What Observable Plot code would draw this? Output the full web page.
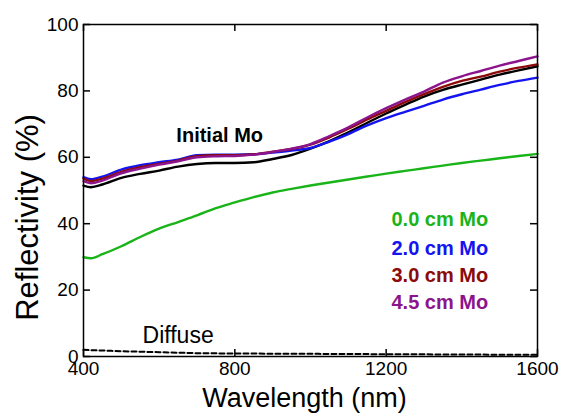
<!DOCTYPE html>
<html>
<head>
<meta charset="utf-8">
<script src="https://cdn.jsdelivr.net/npm/d3@7"></script>
<script src="https://cdn.jsdelivr.net/npm/@observablehq/plot@0.6"></script>
<style>
  body { margin: 0; background: #fff; }
  #chart svg { display: block; }
</style>
</head>
<body>
<div id="chart"></div>
<script>
// ---- Data ----
const wavelengths = [400,420,450,500,550,600,650,700,750,800,850,900,950,1000,1050,1100,1150,1200,1250,1300,1350,1400,1450,1500,1550,1600];
const initialMo = [51.5,51.0,51.8,53.8,55.0,56.0,57.2,58.0,58.3,58.3,58.5,59.5,60.7,62.6,64.9,67.5,70.4,73.2,75.8,78.3,80.3,81.9,83.4,84.9,86.2,87.4];
const mo00 = [29.9,29.6,30.8,33.2,36.0,38.5,40.5,42.5,44.7,46.4,48.0,49.4,50.5,51.5,52.4,53.3,54.2,55.1,55.9,56.7,57.5,58.3,59.0,59.7,60.4,61.0];
const mo20 = [54.0,53.4,54.2,56.3,57.6,58.5,59.3,60.6,60.8,60.8,60.9,61.4,62.0,62.8,64.7,67.0,69.6,71.8,73.7,75.5,77.4,79.0,80.4,81.8,83.0,84.0];
const mo30 = [53.6,52.8,53.6,55.6,57.0,58.0,59.0,60.3,60.6,60.6,60.9,61.7,62.5,63.8,66.0,68.6,71.4,74.0,76.6,79.0,81.2,83.0,84.3,85.8,87.0,88.0];
const mo45 = [52.8,52.2,53.0,55.2,56.6,57.8,58.8,60.0,60.3,60.4,60.8,61.6,62.6,64.0,66.4,69.0,72.0,74.8,77.4,79.8,82.5,84.4,86.0,87.6,89.0,90.4];
const diffuse = [2.0,1.9,1.8,1.6,1.45,1.3,1.15,1.0,0.95,0.9,0.88,0.85,0.82,0.8,0.78,0.75,0.72,0.7,0.68,0.65,0.62,0.6,0.57,0.55,0.52,0.5];

const seriesNames = ["0.0 cm Mo", "Initial Mo", "2.0 cm Mo", "3.0 cm Mo", "4.5 cm Mo"];
const seriesValues = [mo00, initialMo, mo20, mo30, mo45];
const seriesColors = ["#19b419", "#000000", "#1414f0", "#8c0a0a", "#8c148c"];

const legendNames = ["0.0 cm Mo", "2.0 cm Mo", "3.0 cm Mo", "4.5 cm Mo"];
const legendColors = ["#19b419", "#1414f0", "#8c0a0a", "#8c148c"];
const legendY = [41.1, 32.6, 24.3, 16.3];
const legendX = 1214;

const xTicks = [400, 800, 1200, 1600];
const yTicks = [0, 20, 40, 60, 80, 100];

const xLabel = "Wavelength (nm)";
const yLabel = "Reflectivity (%)";

// ---- Build tables ----
const rows = [];
seriesNames.forEach((name, i) => {
  wavelengths.forEach((w, j) => rows.push({series: name, wl: w, r: seriesValues[i][j]}));
});
const diffuseRows = wavelengths.map((w, j) => ({wl: w, r: diffuse[j]}));
const legendRows = legendNames.map((n, i) => ({name: n, color: legendColors[i], y: legendY[i]}));

const W = 561, H = 414;
const mL = 83, mR = 24, mT = 24, mB = 58;
const pw = W - mL - mR, ph = H - mT - mB;
const tickLen = 7;
const font = "'Liberation Sans', Arial, sans-serif";

const chart = Plot.plot({
  width: W,
  height: H,
  marginLeft: mL,
  marginRight: mR,
  marginTop: mT,
  marginBottom: mB,
  style: {fontFamily: font, background: "#fff", color: "#000"},
  x: {domain: [400, 1600]},
  y: {domain: [0, 100]},
  color: {domain: seriesNames, range: seriesColors},
  marks: [
    // data
    Plot.line(diffuseRows, {x: "wl", y: "r", stroke: "#000", strokeWidth: 2, strokeDasharray: "5,3", curve: "monotone-x"}),
    Plot.line(rows, {x: "wl", y: "r", z: "series", stroke: "series", strokeWidth: 2.4, curve: "monotone-x"}),
    // frame and inward ticks
    Plot.frame({stroke: "#000", strokeWidth: 1.5}),
    Plot.tickX(xTicks, {x: d => d, insetTop: ph - tickLen, stroke: "#000", strokeWidth: 1.5}),
    Plot.tickX(xTicks, {x: d => d, insetBottom: ph - tickLen, stroke: "#000", strokeWidth: 1.5}),
    Plot.tickY(yTicks, {y: d => d, insetRight: pw - tickLen, stroke: "#000", strokeWidth: 1.5}),
    Plot.tickY(yTicks, {y: d => d, insetLeft: pw - tickLen, stroke: "#000", strokeWidth: 1.5}),
    // axes
    Plot.axisX({ticks: xTicks, tickFormat: d => String(d), tickSize: 0, tickPadding: 5, fontSize: 19, label: null}),
    Plot.axisY({ticks: yTicks, tickFormat: d => String(d), tickSize: 0, tickPadding: 5, fontSize: 19, label: null}),
    Plot.text([xLabel], {text: d => d, frameAnchor: "bottom", textAnchor: "middle", lineAnchor: "middle", dx: -6, dy: 42, fontSize: 27, fill: "#000"}),
    Plot.text([yLabel], {text: d => d, frameAnchor: "left", textAnchor: "middle", lineAnchor: "middle", rotate: -90, dx: -55, dy: 27, fontSize: 31, fill: "#000"}),
    // annotations
    Plot.text(["Initial Mo"], {x: 760, y: 66.6, text: d => d, fontSize: 20, fontWeight: "bold", fill: "#000"}),
    Plot.text(["Diffuse"], {x: 556, y: 6.4, text: d => d, textAnchor: "start", fontSize: 23, fill: "#000"}),
    Plot.text(legendRows, {x: () => legendX, y: "y", text: "name", fill: "color", textAnchor: "start", fontSize: 20, fontWeight: "bold"})
  ]
});
document.getElementById("chart").appendChild(chart);
</script>
</body>
</html>
